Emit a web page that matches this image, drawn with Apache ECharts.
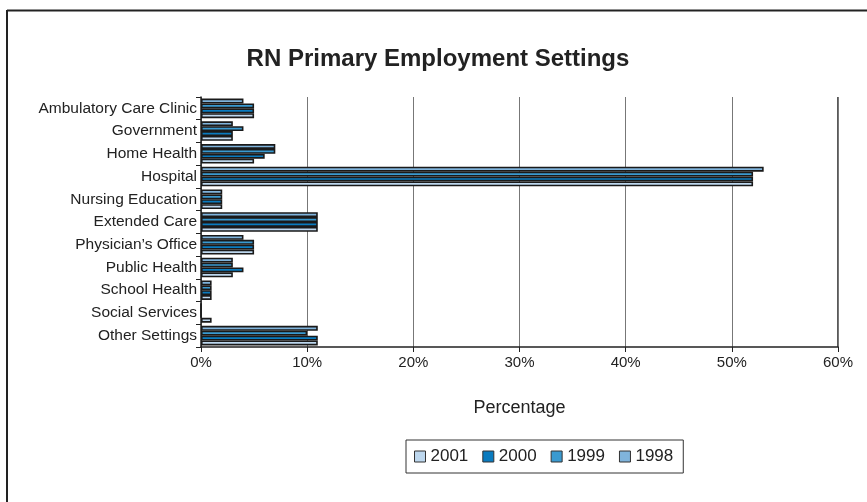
<!DOCTYPE html>
<html>
<head>
<meta charset="utf-8">
<script src="https://cdn.jsdelivr.net/npm/echarts@6/dist/echarts.min.js"></script>
<style>
html,body{margin:0;padding:0;background:#fff;}
#chart{width:867px;height:502px;}
</style>
</head>
<body>
<div id="chart"></div>
<script>
var categories = ["Ambulatory Care Clinic","Government","Home Health","Hospital","Nursing Education","Extended Care","Physician\u2019s Office","Public Health","School Health","Social Services","Other Settings"];
var years = ["2001","2000","1999","1998"];
var v2001 = [5, 3, 5, 52, 2, 11, 5, 3, 1, 1, 11];
var v2000 = [5, 3, 6, 52, 2, 11, 5, 4, 1, 0, 11];
var v1999 = [5, 4, 7, 52, 2, 11, 5, 3, 1, 0, 10];
var v1998 = [4, 3, 7, 53, 2, 11, 4, 3, 1, 0, 11];
var xTicks = [0, 10, 20, 30, 40, 50, 60];

var colors = {"2001": "#BDD7EE", "2000": "#0A7BBF", "1999": "#3A9AD0", "1998": "#80B4DC"};
var values = {"2001": v2001, "2000": v2000, "1999": v1999, "1998": v1998};
var FONT = 'Liberation Sans, Arial, sans-serif';

var chart = echarts.init(document.getElementById('chart'));
// plot order: 1998 at top of each band
var series = ["1998","1999","2000","2001"].map(function(y){
  return {
    name: y,
    type: 'bar',
    data: values[y],
    barGap: '0%',
    barCategoryGap: '14%',
    itemStyle: {color: colors[y], borderColor: '#1a1a1a', borderWidth: 1.6},
    animation: false
  };
});
chart.setOption({
  animation: false,
  textStyle: {fontFamily: FONT},
  title: {
    text: 'RN Primary Employment Settings',
    left: 433, top: 42, textAlign: 'center',
    textStyle: {fontSize: 24, fontWeight: 'bold', color: '#222', fontFamily: FONT}
  },
  legend: {
    data: years,
    left: 406, top: 440, width: 277,
    itemWidth: 11, itemHeight: 11, itemGap: 14,
    padding: [8, 10, 8, 8],
    borderColor: '#333', borderWidth: 1,
    icon: 'rect',
    itemStyle: {borderColor: '#333', borderWidth: 1},
    textStyle: {fontSize: 17, color: '#222', fontFamily: FONT}
  },
  grid: {left: 201, right: 29, top: 97, bottom: 155, containLabel: false},
  xAxis: {
    type: 'value', min: xTicks[0], max: xTicks[xTicks.length-1], interval: 10,
    name: 'Percentage', nameLocation: 'middle', nameGap: 52,
    nameTextStyle: {fontSize: 18, color: '#222', fontFamily: FONT},
    axisLine: {show: true, lineStyle: {color: '#222', width: 1.5}},
    axisTick: {show: true, length: 5, lineStyle: {color: '#222'}},
    axisLabel: {formatter: '{value}%', fontSize: 15, color: '#222', margin: 8, fontFamily: FONT},
    splitLine: {show: true, lineStyle: {color: '#777', width: 1}}
  },
  yAxis: {
    type: 'category', data: categories, inverse: true,
    axisLine: {show: true, lineStyle: {color: '#222', width: 1.5}},
    axisTick: {show: true, length: 5, lineStyle: {color: '#222'}},
    axisLabel: {fontSize: 15.5, color: '#222', margin: 4, fontFamily: FONT},
    splitLine: {show: false}
  },
  graphic: [
    {type: 'line', shape: {x1: 7, y1: 10.5, x2: 867, y2: 10.5}, style: {stroke: '#222', lineWidth: 2}},
    {type: 'line', shape: {x1: 7, y1: 10, x2: 7, y2: 502}, style: {stroke: '#222', lineWidth: 2}},
    {type: 'line', shape: {x1: 838, y1: 97, x2: 838, y2: 347}, style: {stroke: '#222', lineWidth: 1.5}}
  ],
  series: series
});
</script>
</body>
</html>
